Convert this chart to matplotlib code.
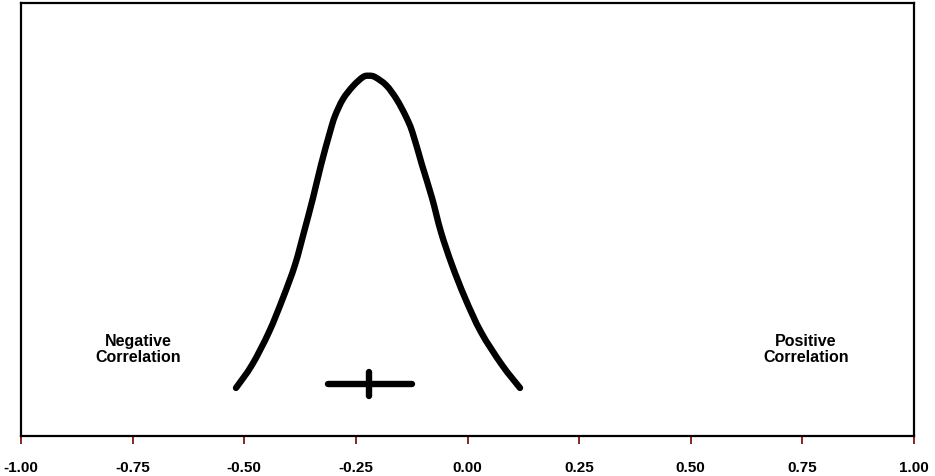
import matplotlib
matplotlib.use("Agg")
import matplotlib.pyplot as plt
from matplotlib.path import Path
from matplotlib.patches import PathPatch

# curve points (x = correlation, y = relative height 0..1 of plot box)
curve_x = [-0.5185, -0.4827, -0.4446, -0.4132, -0.3864, -0.3662, -0.3460, -0.3281,
           -0.3080, -0.2968, -0.2789, -0.2565, -0.2341, -0.2206, -0.2072, -0.1820,
           -0.1590, -0.1385, -0.1235, -0.1019, -0.0795, -0.0594, -0.0347, -0.0056,
           0.0302, 0.0773, 0.1176]
curve_y = [0.111, 0.164, 0.240, 0.319, 0.395, 0.471, 0.550, 0.626,
           0.702, 0.739, 0.778, 0.808, 0.829, 0.832, 0.829, 0.810,
           0.778, 0.739, 0.702, 0.626, 0.550, 0.471, 0.395, 0.319,
           0.240, 0.164, 0.111]

# pooled estimate with its confidence interval
est = -0.22
ci_low, ci_high = -0.312, -0.124
ci_y = 0.120
est_tick = (0.092, 0.147)

xticks = [-1.00, -0.75, -0.50, -0.25, 0.00, 0.25, 0.50, 0.75, 1.00]
xlabels = [f"{v:.2f}" for v in xticks]


def smooth_path(xs, ys):
    # Catmull-Rom segments as cubic Beziers, passing through every read point
    pts = list(zip(xs, ys))
    verts, codes = [pts[0]], [Path.MOVETO]
    n = len(pts)
    for i in range(n - 1):
        p0 = pts[max(i - 1, 0)]
        p1, p2 = pts[i], pts[i + 1]
        p3 = pts[min(i + 2, n - 1)]
        c1 = (p1[0] + (p2[0] - p0[0]) / 6, p1[1] + (p2[1] - p0[1]) / 6)
        c2 = (p2[0] - (p3[0] - p1[0]) / 6, p2[1] - (p3[1] - p1[1]) / 6)
        verts += [c1, c2, p2]
        codes += [Path.CURVE4] * 3
    return Path(verts, codes)


fig = plt.figure(figsize=(9.35, 4.77), dpi=100)
ax = fig.add_axes([21 / 935, 40 / 477, 893 / 935, 433 / 477])

ax.add_patch(PathPatch(smooth_path(curve_x, curve_y), fill=False, edgecolor="black",
                       lw=4.6, capstyle="round", joinstyle="round"))
ax.plot([ci_low, ci_high], [ci_y, ci_y], color="black", lw=4.6, solid_capstyle="round")
ax.plot([est, est], list(est_tick), color="black", lw=4.6, solid_capstyle="round")

for xpos, label in [(-0.738, "Negative\nCorrelation"), (0.758, "Positive\nCorrelation")]:
    ax.text(xpos, 0.203, label, ha="center", va="center", fontsize=11.5,
            fontweight="bold", family=["Liberation Sans", "DejaVu Sans"], linespacing=1.1)

ax.set_xlim(-1, 1)
ax.set_ylim(0, 1)
ax.set_xticks(xticks)
ax.set_xticklabels(xlabels, fontsize=11, fontweight="bold",
                   family=["Liberation Sans Narrow", "Liberation Sans", "DejaVu Sans"])
ax.set_yticks([])
ax.tick_params(axis="x", direction="out", length=6, width=1.2, color="#7a0000", pad=11)
for sp in ax.spines.values():
    sp.set_linewidth(1.6)
    sp.set_color("black")

fig.savefig("out.png", dpi=100)
